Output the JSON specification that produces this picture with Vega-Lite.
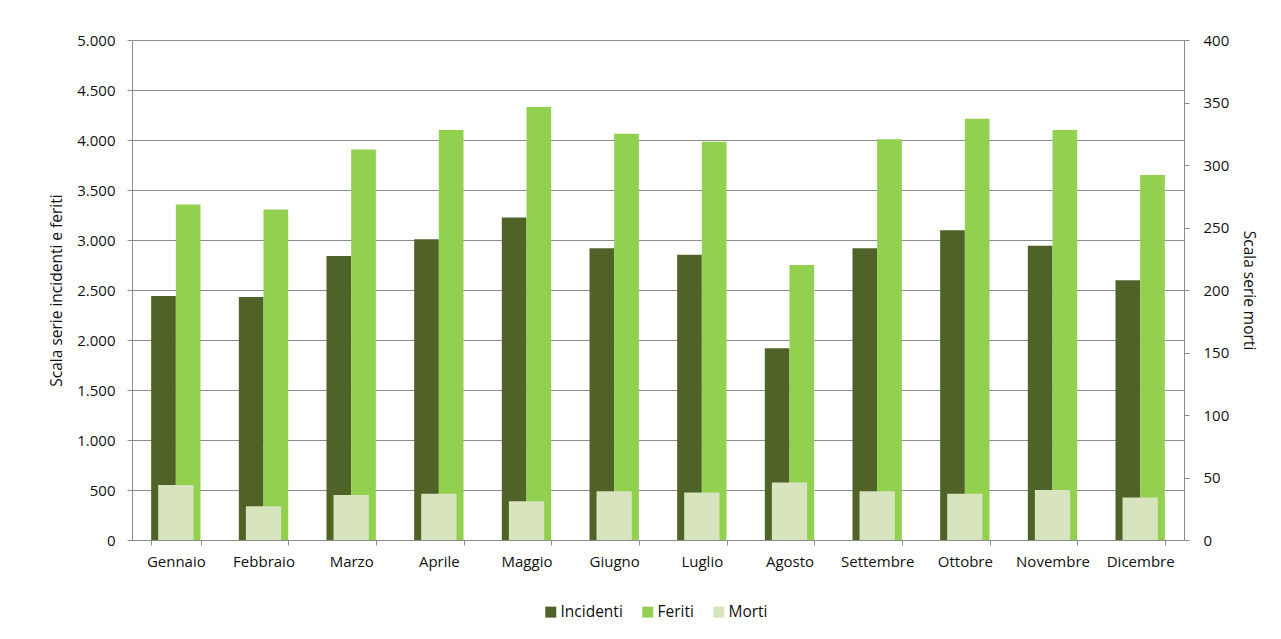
{
  "$schema": "https://vega.github.io/schema/vega-lite/v6.json",
  "autosize": {"type": "none"},
  "padding": {"left": 132, "top": 40, "right": 97, "bottom": 99},
  "width": 1052,
  "height": 500,
  "background": "white",
  "config": {
    "font": "Open Sans",
    "view": {"stroke": null},
    "axis": {
      "labelFont": "Open Sans",
      "titleFont": "Open Sans",
      "labelFontSize": 15,
      "titleFontSize": 15.5,
      "labelColor": "#111111",
      "titleColor": "#111111",
      "titleFontWeight": "normal",
      "domainColor": "#8c8c8c",
      "tickColor": "#8c8c8c",
      "gridColor": "#8c8c8c",
      "tickSize": 5
    },
    "legend": {"labelFont": "Open Sans"}
  },
  "data": {
    "values": [
      {"mese": "Gennaio", "serie": "Incidenti", "valore": 2440},
      {"mese": "Gennaio", "serie": "Feriti", "valore": 3354},
      {"mese": "Gennaio", "serie": "Morti", "valore": 44},
      {"mese": "Febbraio", "serie": "Incidenti", "valore": 2430},
      {"mese": "Febbraio", "serie": "Feriti", "valore": 3304},
      {"mese": "Febbraio", "serie": "Morti", "valore": 27},
      {"mese": "Marzo", "serie": "Incidenti", "valore": 2840},
      {"mese": "Marzo", "serie": "Feriti", "valore": 3905},
      {"mese": "Marzo", "serie": "Morti", "valore": 36},
      {"mese": "Aprile", "serie": "Incidenti", "valore": 3007},
      {"mese": "Aprile", "serie": "Feriti", "valore": 4100},
      {"mese": "Aprile", "serie": "Morti", "valore": 37},
      {"mese": "Maggio", "serie": "Incidenti", "valore": 3224},
      {"mese": "Maggio", "serie": "Feriti", "valore": 4330},
      {"mese": "Maggio", "serie": "Morti", "valore": 31},
      {"mese": "Giugno", "serie": "Incidenti", "valore": 2917},
      {"mese": "Giugno", "serie": "Feriti", "valore": 4063},
      {"mese": "Giugno", "serie": "Morti", "valore": 39},
      {"mese": "Luglio", "serie": "Incidenti", "valore": 2853},
      {"mese": "Luglio", "serie": "Feriti", "valore": 3983},
      {"mese": "Luglio", "serie": "Morti", "valore": 38},
      {"mese": "Agosto", "serie": "Incidenti", "valore": 1917},
      {"mese": "Agosto", "serie": "Feriti", "valore": 2750},
      {"mese": "Agosto", "serie": "Morti", "valore": 46},
      {"mese": "Settembre", "serie": "Incidenti", "valore": 2917},
      {"mese": "Settembre", "serie": "Feriti", "valore": 4007},
      {"mese": "Settembre", "serie": "Morti", "valore": 39},
      {"mese": "Ottobre", "serie": "Incidenti", "valore": 3097},
      {"mese": "Ottobre", "serie": "Feriti", "valore": 4213},
      {"mese": "Ottobre", "serie": "Morti", "valore": 37},
      {"mese": "Novembre", "serie": "Incidenti", "valore": 2943},
      {"mese": "Novembre", "serie": "Feriti", "valore": 4100},
      {"mese": "Novembre", "serie": "Morti", "valore": 40},
      {"mese": "Dicembre", "serie": "Incidenti", "valore": 2597},
      {"mese": "Dicembre", "serie": "Feriti", "valore": 3650},
      {"mese": "Dicembre", "serie": "Morti", "valore": 34}
    ]
  },
  "encoding": {
    "x": {
      "field": "mese",
      "type": "nominal",
      "sort": ["Gennaio", "Febbraio", "Marzo", "Aprile", "Maggio", "Giugno", "Luglio", "Agosto", "Settembre", "Ottobre", "Novembre", "Dicembre"],
      "scale": {"paddingInner": 0.437, "paddingOuter": 0.2185},
      "axis": {"title": null, "labelAngle": 0, "tickBand": "extent", "labelPadding": 9, "grid": false}
    },
    "color": {
      "field": "serie",
      "type": "nominal",
      "scale": {"domain": ["Incidenti", "Feriti", "Morti"], "range": ["#4F6228", "#92D050", "#D7E4BD"]},
      "legend": {
        "title": null,
        "orient": "none",
        "legendX": 411,
        "legendY": 564,
        "direction": "horizontal",
        "symbolType": "square",
        "symbolSize": 121,
        "symbolStrokeWidth": 0,
        "labelFontSize": 15.5,
        "labelColor": "#111111",
        "labelOffset": 2,
        "columnPadding": 17
      }
    }
  },
  "layer": [
    {
      "transform": [{"filter": "datum.serie !== 'Morti'"}],
      "mark": {"type": "bar"},
      "encoding": {
        "xOffset": {"field": "serie", "type": "nominal", "sort": ["Incidenti", "Feriti"], "scale": {"paddingInner": 0, "paddingOuter": 0}},
        "y": {
          "field": "valore",
          "type": "quantitative",
          "scale": {"domain": [0, 5000]},
          "axis": {
            "title": "Scala serie incidenti e feriti",
            "values": [0, 500, 1000, 1500, 2000, 2500, 3000, 3500, 4000, 4500, 5000],
            "labelExpr": "replace(format(datum.value, ',.0f'), ',', '.')",
            "grid": true,
            "labelPadding": 12,
            "titleX": -76,
            "titleY": 250,
            "titleBaseline": "middle",
            "titleAngle": -90
          }
        }
      }
    },
    {
      "transform": [{"filter": "datum.serie === 'Morti'"}],
      "mark": {"type": "bar", "width": {"band": 0.715}},
      "encoding": {
        "y": {
          "field": "valore",
          "type": "quantitative",
          "scale": {"domain": [0, 400]},
          "axis": {
            "orient": "right",
            "title": "Scala serie morti",
            "values": [0, 50, 100, 150, 200, 250, 300, 350, 400],
            "grid": false,
            "labelPadding": 14,
            "titleX": 64,
            "titleY": 250,
            "titleBaseline": "middle",
            "titleAngle": 90
          }
        }
      }
    }
  ],
  "resolve": {"scale": {"y": "independent"}}
}
